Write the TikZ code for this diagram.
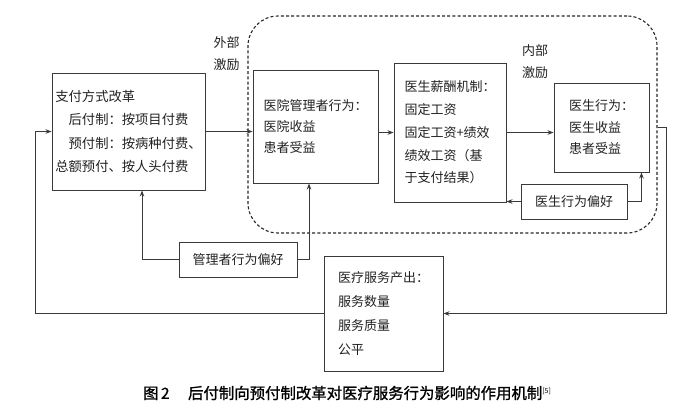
\documentclass[tikz,border=0pt]{standalone}
\usepackage{fontspec}
\setmainfont{Noto Sans CJK SC}
\newfontfamily\capfont{Noto Sans CJK SC}[FakeBold=1.2]
\usetikzlibrary{arrows.meta,calc}
\definecolor{ln}{HTML}{3A3A3A}
\definecolor{tx}{HTML}{222222}
\begin{document}
\begin{tikzpicture}[x=1pt,y=-1pt,
  box/.style={draw=ln,line width=0.9pt,align=left,inner sep=0pt,text=tx,
    font=\fontsize{13}{22}\selectfont},
  lbl/.style={align=center,inner sep=0pt,text=tx,font=\fontsize{13}{22}\selectfont},
  conn/.style={draw=ln,line width=0.9pt,-{Stealth[length=6pt,width=4.5pt]}},
  plain/.style={draw=ln,line width=0.9pt}]
\useasboundingbox (0,0) rectangle (700,416);
% dashed region
\node[draw=black!85,line width=1.1pt,dash pattern=on 3pt off 2.2pt,rounded corners=30pt,
  minimum width=409pt,minimum height=217pt] (inner) at (452.5,124.5) {};
% boxes
\node[box,minimum width=153pt,minimum height=117pt,font=\fontsize{13.3}{23.2}\selectfont] (b1) at (128.5,131.5)
  {支付方式改革\\\hspace*{1em}后付制：按项目付费\\\hspace*{1em}预付制：按病种付费、\\总额预付、按人头付费};
\node[box,minimum width=125pt,minimum height=113pt,font=\fontsize{13}{21}\selectfont] (b2) at (315.5,126.5)
  {医院管理者行为：\\医院收益\\患者受益};
\node[box,minimum width=112pt,minimum height=139pt,font=\fontsize{13}{22.7}\selectfont] (b3) at (450,132.5)
  {医生薪酬机制：\\固定工资\\固定工资+绩效\\绩效工资（基\\于支付结果）};
\node[box,minimum width=95pt,minimum height=89pt,font=\fontsize{13}{21.5}\selectfont] (b4) at (601.5,127.5)
  {医生行为：\\医生收益\\患者受益};
\node[box,minimum width=106pt,minimum height=35pt] (docpref) at (574,201.5) {医生行为偏好};
\node[box,minimum width=118pt,minimum height=35pt] (mgrpref) at (238,259.5) {管理者行为偏好};
\node[box,minimum width=119pt,minimum height=115pt,font=\fontsize{13}{24.3}\selectfont] (out) at (383.5,313.5)
  {医疗服务产出：\\服务数量\\服务质量\\公平};
% labels
\node[lbl] (ext) at (226.5,54) {外部\\激励};
\node[lbl] (int) at (535,61.5) {内部\\激励};
% connectors
\draw[conn] (b1.east) -- (b1.east -| b2.west);
\draw[conn] (b3.west -| b2.east) -- (b3.west);
\draw[conn] (b3.east) -- (b3.east -| b4.west);
\draw[conn] (docpref.west) -- (docpref.west -| b3.east);
\draw[conn] (docpref.east) -| ([xshift=-8pt]b4.south east);
\coordinate (rc) at (666,0);
\draw[conn] (inner.east |- b4.west) -- (rc |- b4.west) |- (out.east);
\coordinate (lc) at (35,0);
\draw[conn] (out.west) -| (lc |- b1.west) -- (b1.west);
\draw[conn] (mgrpref.west) -| ([xshift=13.5pt]b1.south);
\draw[conn] (mgrpref.east) -| ([xshift=-6.5pt]b2.south);
% caption
\node[inner sep=0pt,text=black,font=\capfont\fontsize{15.4}{17}\selectfont] (cap) at (347,393)
  {图\,2\hspace{1.2em}后付制向预付制改革对医疗服务行为影响的作用机制\raisebox{0.6ex}{\rmfamily\fontsize{7}{8}\selectfont[5]}};
\end{tikzpicture}
\end{document}
